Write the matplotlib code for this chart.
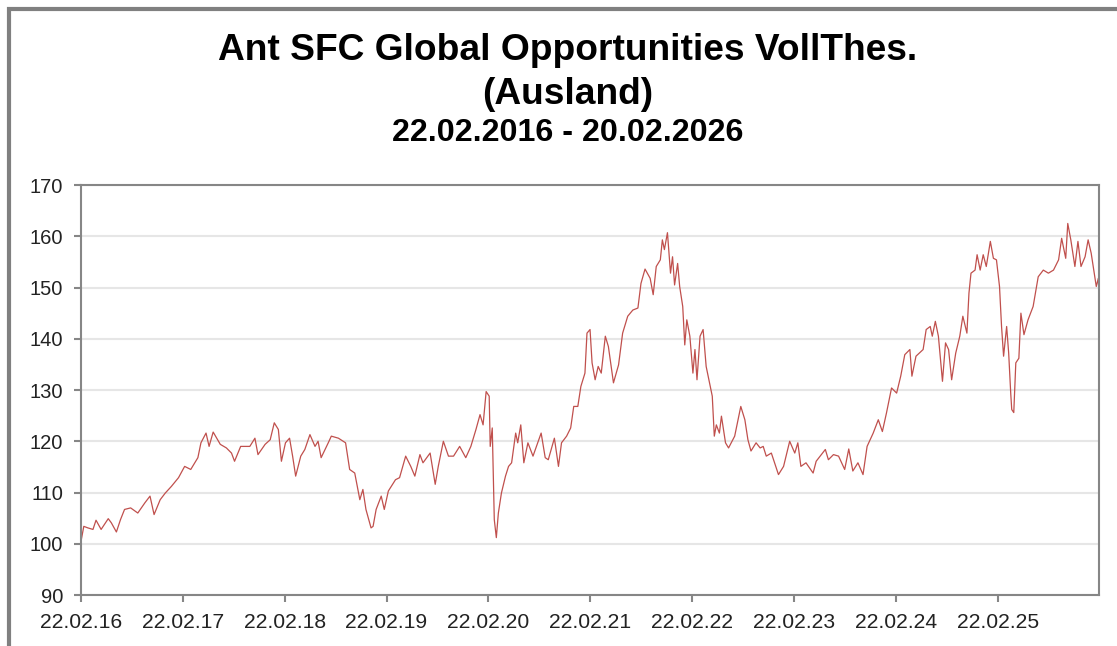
"""Fund price chart: Ant SFC Global Opportunities VollThes. (Ausland)."""
import matplotlib
matplotlib.use("Agg")
import matplotlib.pyplot as plt
from matplotlib.patches import Rectangle

# decimal years (22.02.2016 = 2016.142) and index values
years = [
    2016.14, 2016.17, 2016.21, 2016.26, 2016.29, 2016.34, 2016.41, 2016.44, 2016.49, 2016.53,
    2016.57, 2016.63, 2016.70, 2016.77, 2016.82, 2016.86, 2016.92, 2016.97, 2017.03, 2017.10,
    2017.16, 2017.22, 2017.29, 2017.32, 2017.37, 2017.40, 2017.44, 2017.51, 2017.57, 2017.62,
    2017.65, 2017.71, 2017.80, 2017.85, 2017.88, 2017.95, 2018.00, 2018.04, 2018.08, 2018.11,
    2018.15, 2018.19, 2018.22, 2018.25, 2018.30, 2018.34, 2018.39, 2018.44, 2018.47, 2018.50,
    2018.57, 2018.60, 2018.67, 2018.74, 2018.78, 2018.83, 2018.88, 2018.91, 2018.94, 2018.99,
    2019.01, 2019.04, 2019.09, 2019.12, 2019.16, 2019.23, 2019.27, 2019.33, 2019.38, 2019.42,
    2019.47, 2019.50, 2019.57, 2019.62, 2019.65, 2019.70, 2019.75, 2019.80, 2019.86, 2019.92,
    2019.97, 2020.02, 2020.06, 2020.09, 2020.12, 2020.15, 2020.16, 2020.18, 2020.20, 2020.22,
    2020.24, 2020.27, 2020.31, 2020.34, 2020.37, 2020.41, 2020.43, 2020.46, 2020.49, 2020.53,
    2020.58, 2020.66, 2020.70, 2020.73, 2020.79, 2020.83, 2020.86, 2020.91, 2020.95, 2020.98,
    2021.02, 2021.05, 2021.09, 2021.11, 2021.14, 2021.16, 2021.19, 2021.22, 2021.25, 2021.29,
    2021.32, 2021.37, 2021.42, 2021.46, 2021.51, 2021.56, 2021.61, 2021.64, 2021.68, 2021.73,
    2021.76, 2021.79, 2021.83, 2021.85, 2021.87, 2021.90, 2021.93, 2021.95, 2021.97, 2022.00,
    2022.02, 2022.05, 2022.07, 2022.09, 2022.12, 2022.15, 2022.17, 2022.19, 2022.22, 2022.25,
    2022.28, 2022.32, 2022.34, 2022.36, 2022.38, 2022.41, 2022.43, 2022.47, 2022.50, 2022.56,
    2022.62, 2022.66, 2022.69, 2022.72, 2022.77, 2022.81, 2022.84, 2022.87, 2022.92, 2022.99,
    2023.04, 2023.10, 2023.15, 2023.18, 2023.21, 2023.26, 2023.33, 2023.36, 2023.45, 2023.48,
    2023.53, 2023.58, 2023.64, 2023.68, 2023.72, 2023.77, 2023.82, 2023.86, 2023.92, 2023.97,
    2024.01, 2024.05, 2024.10, 2024.15, 2024.19, 2024.23, 2024.28, 2024.30, 2024.34, 2024.41,
    2024.44, 2024.48, 2024.50, 2024.53, 2024.56, 2024.60, 2024.63, 2024.66, 2024.69, 2024.73,
    2024.77, 2024.80, 2024.84, 2024.86, 2024.88, 2024.92, 2024.94, 2024.97, 2025.00, 2025.03,
    2025.07, 2025.10, 2025.13, 2025.16, 2025.18, 2025.20, 2025.23, 2025.25, 2025.27, 2025.28,
    2025.30, 2025.32, 2025.35, 2025.37, 2025.40, 2025.44, 2025.49, 2025.54, 2025.59, 2025.64,
    2025.69, 2025.74, 2025.77, 2025.81, 2025.83, 2025.86, 2025.90, 2025.93, 2025.96, 2026.00,
    2026.03, 2026.06, 2026.09, 2026.11, 2026.13, 2026.137,
]
values = [
    100.2, 103.4, 103.1, 102.8, 104.6, 102.8, 104.9, 104.1, 102.3, 104.7,
    106.7, 107.0, 106.0, 108.0, 109.3, 105.7, 108.6, 109.9, 111.2, 112.9,
    115.1, 114.5, 116.8, 119.7, 121.6, 119.0, 121.8, 119.4, 118.7, 117.7,
    116.1, 119.0, 119.0, 120.6, 117.4, 119.4, 120.3, 123.6, 122.3, 116.1,
    119.7, 120.6, 117.1, 113.2, 117.1, 118.4, 121.3, 119.0, 120.0, 116.8,
    119.7, 121.0, 120.6, 119.7, 114.5, 113.8, 108.6, 110.6, 106.7, 103.1,
    103.4, 106.7, 109.3, 106.7, 110.3, 112.5, 112.9, 117.1, 115.1, 113.2,
    117.4, 115.8, 117.7, 111.6, 115.1, 120.0, 117.1, 117.1, 119.0, 116.8,
    119.0, 122.3, 125.2, 123.2, 129.7, 128.8, 119.0, 122.6, 104.7, 101.2,
    106.0, 109.9, 113.2, 115.1, 115.8, 121.6, 119.7, 123.2, 115.8, 119.7,
    117.1, 121.6, 116.8, 116.4, 120.6, 115.1, 119.7, 121.0, 122.6, 126.8,
    126.8, 130.7, 133.3, 141.1, 141.8, 135.3, 132.0, 134.6, 133.3, 140.5,
    138.5, 131.4, 134.9, 141.1, 144.4, 145.6, 146.0, 150.8, 153.6, 151.8,
    148.6, 154.1, 155.4, 159.3, 157.4, 160.7, 152.8, 156.0, 150.5, 154.7,
    150.2, 146.3, 138.8, 143.7, 140.5, 133.3, 137.9, 132.0, 140.5, 141.8,
    134.6, 130.7, 128.8, 121.0, 123.2, 121.6, 124.9, 119.7, 118.7, 121.0,
    126.8, 124.2, 120.3, 118.1, 119.7, 118.7, 119.0, 117.1, 117.7, 113.5,
    115.1, 120.0, 117.7, 119.7, 115.1, 115.8, 113.8, 116.1, 118.4, 116.4,
    117.4, 117.1, 114.5, 118.5, 114.2, 115.8, 113.5, 119.0, 121.6, 124.2,
    121.9, 125.5, 130.4, 129.4, 132.7, 136.9, 137.9, 132.7, 136.6, 137.9,
    141.8, 142.4, 140.5, 143.4, 140.5, 131.7, 139.2, 137.9, 132.0, 137.2,
    140.5, 144.4, 141.1, 148.9, 152.8, 153.4, 156.4, 153.4, 156.4, 154.1,
    159.0, 155.7, 155.4, 150.2, 142.4, 136.6, 142.4, 137.2, 129.4, 126.2,
    125.6, 135.3, 136.2, 145.0, 140.8, 143.7, 146.3, 152.1, 153.4, 152.8,
    153.4, 155.4, 159.6, 155.7, 162.5, 159.3, 154.1, 159.0, 154.1, 156.0,
    159.3, 156.7, 152.8, 150.2, 151.8, 148.6,
]

tick_years = [2016, 2017, 2018, 2019, 2020, 2021, 2022, 2023, 2024, 2025]
tick_labels = [f"22.02.{y % 100:02d}" for y in tick_years]
y_ticks = [90, 100, 110, 120, 130, 140, 150, 160, 170]

title_lines = ["Ant SFC Global Opportunities VollThes.", "(Ausland)"]
subtitle = "22.02.2016 - 20.02.2026"

plt.rcParams["font.family"] = ["Liberation Sans", "DejaVu Sans"]

fig = plt.figure(figsize=(11.17, 6.46), dpi=100)
ax = fig.add_axes([0.0725, 0.0789, 0.9114, 0.6347])

ax.plot(years, values, color="#c0504d", linewidth=0.9)

feb22 = 52 / 365.25
ax.set_xlim(2016 + feb22, 2026 + 50 / 365.25)
ax.set_ylim(90, 170)
ax.set_xticks([y + feb22 for y in tick_years])
ax.set_xticklabels(tick_labels)
ax.set_yticks(y_ticks)

ax.grid(axis="y", color="#e6e6e6", linewidth=1.5)
ax.set_axisbelow(True)
for s in ax.spines.values():
    s.set_color("#868686")
    s.set_linewidth(1.5)
ax.tick_params(axis="both", colors="#868686", width=1.5, length=5,
               labelcolor="#222222", pad=8)
ax.tick_params(axis="x", labelsize=15.2)
ax.tick_params(axis="y", labelsize=14.5)

fig.text(0.5085, 0.9226, title_lines[0], ha="center", va="center",
         fontsize=26.7, fontweight="bold", color="black")
fig.text(0.5085, 0.853, title_lines[1], ha="center", va="center",
         fontsize=26.7, fontweight="bold", color="black")
fig.text(0.5085, 0.794, subtitle, ha="center", va="center", fontsize=23.2,
         fontweight="bold", color="black")

# outer frame, only left and top edges are inside the image
fig.add_artist(Rectangle((9 / 1117, -0.1), 1.2, 0.1 + 1 - 9 / 646,
                         transform=fig.transFigure, fill=False,
                         edgecolor="#808080", linewidth=3, clip_on=False))

fig.savefig("out.png", dpi=100)
plt.close(fig)
